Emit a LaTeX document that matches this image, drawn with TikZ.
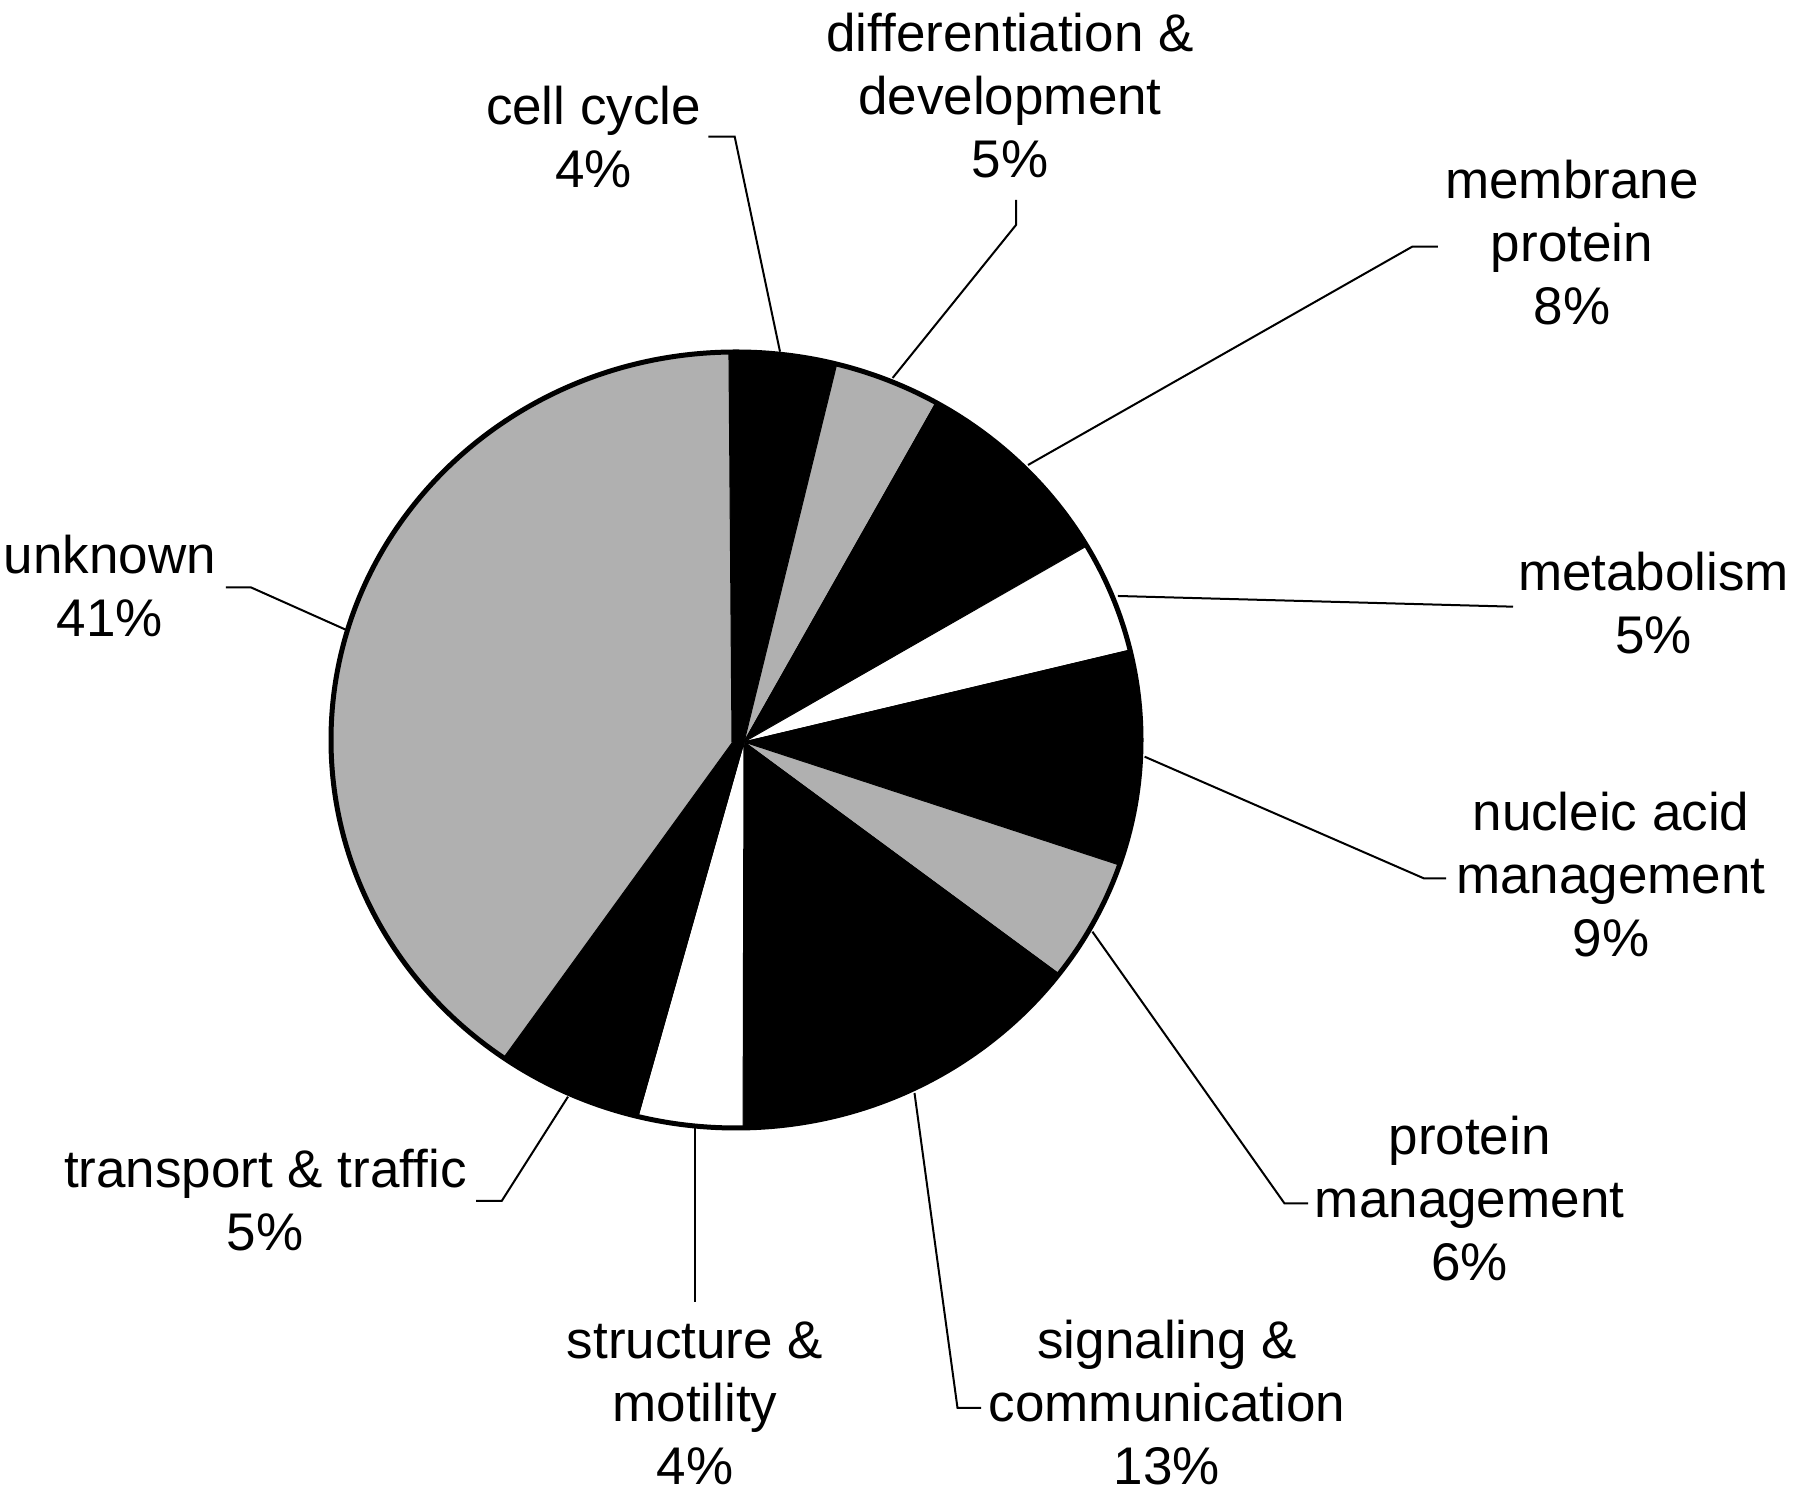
\documentclass[tikz,border=0pt]{standalone}
\usepackage{fontspec}
\setmainfont{Liberation Sans}
\usetikzlibrary{calc}
\newcommand{\lblstrut}{\rule{0pt}{20pt}}
\definecolor{piegray}{RGB}{176,176,176}
\begin{document}
\begin{tikzpicture}[x=0.5pt,y=0.5pt,
  lbl/.style={anchor=north, align=center, inner sep=0pt, font=\fontsize{26.5}{31.5}\selectfont},
  leader/.style={line width=1pt, line join=miter},
  slice/.style={draw=black, line width=0.5pt},
  blackslice/.style={slice, fill=black},
  grayslice/.style={slice, fill=piegray},
  whiteslice/.style={slice, fill=white},
  ell/.style={x radius=405, y radius=388}]
\useasboundingbox (0,0) rectangle (1800,1498);
\fill[white] (0,0) rectangle (1800,1498);

\coordinate (c) at (736,758);
\coordinate (v) at (744,756);
\coordinate (u) at (732,755);

% background of the pie
\fill[black] (c) ellipse[ell];

% slices
\draw[blackslice] (v) -- ($(c)+(75.6:405 and 388)$) arc[ell, start angle=75.6, end angle=91] -- cycle;
\draw[grayslice]  (v) -- ($(c)+(60.4:405 and 388)$) arc[ell, start angle=60.4, end angle=75.6] -- cycle;
\draw[blackslice] (v) -- ($(c)+(30:405 and 388)$) arc[ell, start angle=30, end angle=60.4] -- cycle;
\draw[whiteslice] (v) -- ($(c)+(13.4:405 and 388)$) arc[ell, start angle=13.4, end angle=30] -- cycle;
\draw[blackslice] (v) -- ($(c)+(-18.8:405 and 388)$) arc[ell, start angle=-18.8, end angle=13.4] -- cycle;
\draw[grayslice]  (v) -- ($(c)+(-37.1:405 and 388)$) arc[ell, start angle=-37.1, end angle=-18.8] -- cycle;
\draw[blackslice] (v) -- ($(c)+(-89:405 and 388)$) arc[ell, start angle=-89, end angle=-37.1] -- cycle;
\draw[whiteslice] (v) -- ($(c)+(-104:405 and 388)$) arc[ell, start angle=-104, end angle=-89] -- cycle;
\draw[blackslice] (v) -- ($(c)+(-125:405 and 388)$) arc[ell, start angle=-125, end angle=-104] -- cycle;
\draw[grayslice]  (u) -- ($(c)+(91:405 and 388)$) arc[ell, start angle=91, end angle=235] -- cycle;
\draw[line width=2.5pt] (c) ellipse[ell];

% labels
\node[lbl] (cc)  at (593.5,1414)  {\lblstrut cell cycle\\4\%};
\node[lbl] (dd)  at (1010,1487.3) {\lblstrut differentiation \&\\development\\5\%};
\node[lbl] (mp)  at (1572,1340)   {\lblstrut membrane\\protein\\8\%};
\node[lbl] (mb)  at (1653.6,948)  {\lblstrut metabolism\\5\%};
\node[lbl] (na)  at (1611,708)    {\lblstrut nucleic acid\\management\\9\%};
\node[lbl] (pm)  at (1469.6,384)  {\lblstrut protein\\management\\6\%};
\node[lbl] (sc)  at (1167,180)    {\lblstrut signaling \&\\communication\\13\%};
\node[lbl] (sm)  at (695,180)     {\lblstrut structure \&\\motility\\4\%};
\node[lbl] (tt)  at (265.3,351.3) {\lblstrut transport \& traffic\\5\%};
\node[lbl] (uk)  at (110,964.7)   {\lblstrut unknown\\41\%};

% leader coordinates
\coordinate (cc1) at (708.4,1361.3); \coordinate (cc2) at (734.7,1361.3); \coordinate (cc3) at (780,1146.3);
\coordinate (dd1) at (1016,1298);    \coordinate (dd2) at (1016,1273);    \coordinate (dd3) at (892.6,1120);
\coordinate (mp1) at (1437.8,1251.3);\coordinate (mp2) at (1412.2,1251.3);\coordinate (mp3) at (1028,1033);
\coordinate (mb1) at (1513,891.3);   \coordinate (mb3) at (1117.9,902);
\coordinate (na1) at (1446,619.7);   \coordinate (na2) at (1423.7,619.7); \coordinate (na3) at (1144.6,741.3);
\coordinate (pm1) at (1308,294.7);   \coordinate (pm2) at (1284.4,294.7); \coordinate (pm3) at (1092.4,566.3);
\coordinate (sc1) at (981,90);       \coordinate (sc2) at (957.5,90);     \coordinate (sc3) at (914.5,405);
\coordinate (sm1) at (695,196);      \coordinate (sm3) at (695,370);
\coordinate (tt1) at (476,297);      \coordinate (tt2) at (501.7,297);    \coordinate (tt3) at (568,401.3);
\coordinate (uk1) at (225.8,910.7);  \coordinate (uk2) at (250.7,910.7);  \coordinate (uk3) at (346.4,868);

\draw[leader] (cc1) -- (cc2) -- (cc3);
\draw[leader] (dd1) -- (dd2) -- (dd3);
\draw[leader] (mp1) -- (mp2) -- (mp3);
\draw[leader] (mb1) -- (mb3);
\draw[leader] (na1) -- (na2) -- (na3);
\draw[leader] (pm1) -- (pm2) -- (pm3);
\draw[leader] (sc1) -- (sc2) -- (sc3);
\draw[leader] (sm1) -- (sm3);
\draw[leader] (tt1) -- (tt2) -- (tt3);
\draw[leader] (uk1) -- (uk2) -- (uk3);
\end{tikzpicture}
\end{document}
